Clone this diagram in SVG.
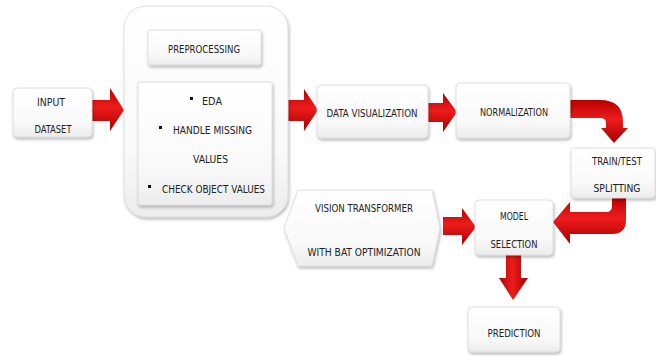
<svg xmlns="http://www.w3.org/2000/svg" width="656" height="356" viewBox="0 0 656 356">
<defs>
<linearGradient id="box" x1="0" y1="0" x2="0" y2="1">
<stop offset="0" stop-color="#ffffff"/><stop offset="0.7" stop-color="#f9f9f9"/><stop offset="1" stop-color="#ececec"/>
</linearGradient>
<linearGradient id="red" x1="0" y1="0" x2="0" y2="1">
<stop offset="0" stop-color="#b80000"/><stop offset="0.45" stop-color="#ee1c1c"/><stop offset="1" stop-color="#a50000"/>
</linearGradient>
<linearGradient id="redv" x1="0" y1="0" x2="1" y2="0">
<stop offset="0" stop-color="#b80000"/><stop offset="0.45" stop-color="#ee1c1c"/><stop offset="1" stop-color="#a50000"/>
</linearGradient>
<filter id="sh" x="-20%" y="-20%" width="140%" height="150%">
<feDropShadow dx="1" dy="2" stdDeviation="1.6" flood-color="#000" flood-opacity="0.28"/>
</filter>
</defs>
<style>
.bx{fill:url(#box);stroke:#d8d8d8;stroke-width:0.8;filter:url(#sh)}
.t{font-family:"DejaVu Sans Condensed","DejaVu Sans",sans-serif;font-size:10.8px;fill:#222;text-anchor:middle}
.tl{font-family:"DejaVu Sans Condensed","DejaVu Sans",sans-serif;font-size:10.8px;fill:#222}
.ar{fill:url(#red)}
.arv{fill:url(#redv)}
.bul{fill:#111}
</style>
<rect width="656" height="356" fill="#ffffff"/>

<g id="connectors">
<polygon class="ar" points="92,100 110,100 110,88 124,110 110,131 110,121 92,121"/>
<polygon class="ar" points="288,100 304,100 304,89 318,110 304,131 304,121 288,121"/>
<polygon class="ar" points="428,103 443,103 443,93 457,112 443,132 443,122 428,122"/>
<path class="ar" d="M570,100 L600,100 Q623,100 623,122 L623,128 L628,128 L614,143 L601,128 L606,128 L606,123 Q606,118 600,118 L570,118 Z"/>
<path class="ar" d="M612,197 L626,197 L626,220 Q626,234 612,234 L570,234 L570,244 L553,222 L570,202 L570,212 L606,212 Q612,212 612,206 Z"/>
<polygon class="ar" points="443,217 462,217 462,208 476,227 462,245 462,235 443,235"/>
<polygon class="arv" points="506,255 521,255 521,278 528,278 513,300 499,278 506,278"/>
</g>

<g id="input">
<rect class="bx" x="13" y="88" width="79" height="49" rx="4"/>
<text class="t" x="51" y="106" textLength="28" lengthAdjust="spacingAndGlyphs">INPUT</text>
<text class="t" x="53" y="133" textLength="37" lengthAdjust="spacingAndGlyphs">DATASET</text>
</g>

<g id="preprocessing">
<rect class="bx" x="124" y="6" width="164" height="211" rx="22"/>
<rect class="bx" x="148" y="30" width="113" height="35" rx="2"/>
<text class="t" x="204" y="53" textLength="72" lengthAdjust="spacingAndGlyphs">PREPROCESSING</text>
<rect class="bx" x="138" y="82" width="134" height="123" rx="2"/>
<rect class="bul" x="190" y="97" width="3" height="3"/>
<text class="tl" x="202" y="105" textLength="20" lengthAdjust="spacingAndGlyphs">EDA</text>
<rect class="bul" x="159" y="126" width="3" height="3"/>
<text class="tl" x="173" y="134" textLength="79" lengthAdjust="spacingAndGlyphs">HANDLE MISSING</text>
<text class="tl" x="193" y="163" textLength="35" lengthAdjust="spacingAndGlyphs">VALUES</text>
<rect class="bul" x="148" y="185" width="3" height="3"/>
<text class="tl" x="162" y="193" textLength="103" lengthAdjust="spacingAndGlyphs">CHECK OBJECT VALUES</text>
</g>

<g id="datavis">
<rect class="bx" x="317" y="85" width="111" height="53" rx="4"/>
<text class="t" x="372" y="117" textLength="91" lengthAdjust="spacingAndGlyphs">DATA VISUALIZATION</text>
</g>

<g id="normalization">
<rect class="bx" x="456" y="83" width="114" height="55" rx="4"/>
<text class="t" x="514" y="116" textLength="68" lengthAdjust="spacingAndGlyphs">NORMALIZATION</text>
</g>

<g id="traintest">
<rect class="bx" x="571" y="148" width="84" height="50" rx="3"/>
<text class="t" x="617" y="165" textLength="50" lengthAdjust="spacingAndGlyphs">TRAIN/TEST</text>
<text class="t" x="617" y="192" textLength="47" lengthAdjust="spacingAndGlyphs">SPLITTING</text>
</g>

<g id="vit">
<polygon class="bx" points="298,190 432,190 440,228 432,266 298,266 284,228"/>
<text class="t" x="364" y="212" textLength="98" lengthAdjust="spacingAndGlyphs">VISION TRANSFORMER</text>
<text class="t" x="364" y="256" textLength="113" lengthAdjust="spacingAndGlyphs">WITH BAT OPTIMIZATION</text>
</g>

<g id="model">
<rect class="bx" x="475" y="200" width="78" height="55" rx="4"/>
<text class="t" x="514" y="220" textLength="28" lengthAdjust="spacingAndGlyphs">MODEL</text>
<text class="t" x="514" y="248" textLength="47" lengthAdjust="spacingAndGlyphs">SELECTION</text>
</g>

<g id="prediction">
<rect class="bx" x="468" y="307" width="92" height="45" rx="4"/>
<text class="t" x="514" y="337" textLength="53" lengthAdjust="spacingAndGlyphs">PREDICTION</text>
</g>
</svg>
